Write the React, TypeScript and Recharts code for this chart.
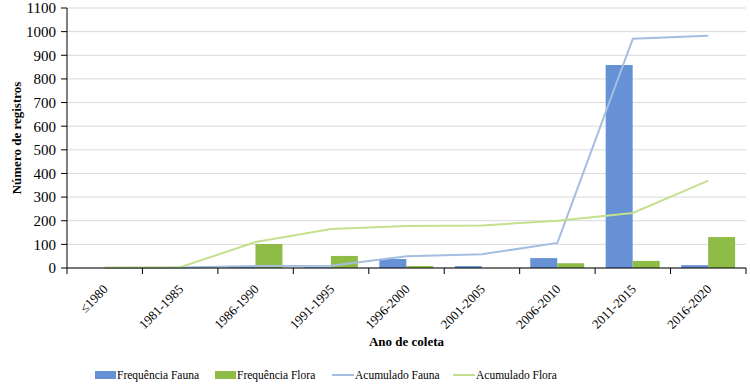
import React from 'react';
import {
  ComposedChart,
  Bar,
  Line,
  XAxis,
  YAxis,
  CartesianGrid,
  Legend,
} from 'recharts';

const periods = [
  '≤1980',
  '1981-1985',
  '1986-1990',
  '1991-1995',
  '1996-2000',
  '2001-2005',
  '2006-2010',
  '2011-2015',
  '2016-2020',
];
const freqFauna = [0, 2, 5, 3, 38, 8, 42, 859, 12];
const freqFlora = [2, 1, 102, 51, 8, 0, 20, 30, 131];
const acumFauna = [0, 2, 8, 10, 50, 58, 106, 970, 983];
const acumFlora = [2, 3, 110, 165, 178, 180, 200, 233, 370];
const yTicks = [0, 100, 200, 300, 400, 500, 600, 700, 800, 900, 1000, 1100];

const data = periods.map((p, i) => ({
  period: p,
  freqFauna: freqFauna[i],
  freqFlora: freqFlora[i],
  acumFauna: acumFauna[i],
  acumFlora: acumFlora[i],
}));

const BLUE = '#6692d5';
const GREEN = '#8fbc47';
const LIGHT_BLUE = '#a4bde0';
const LIGHT_GREEN = '#c4e08f';
const FONT = 'Liberation Serif, Times New Roman, serif';

// plot area
const PLOT_LEFT = 67;
const PLOT_RIGHT = 746;
const BAND = (PLOT_RIGHT - PLOT_LEFT) / periods.length;

function XTick(props: any) {
  const { x, y, payload, index } = props;
  const left = x - BAND / 2;
  const tx = x + 4;
  const ty = y + 14;
  return (
    <g>
      <line x1={left} y1={y - 8} x2={left} y2={y - 2} stroke="#000" />
      {index === periods.length - 1 && (
        <line x1={x + BAND / 2} y1={y - 8} x2={x + BAND / 2} y2={y - 2} stroke="#000" />
      )}
      <text
        x={tx}
        y={ty}
        transform={`rotate(-45, ${tx}, ${ty})`}
        textAnchor="end"
        fontSize={13}
        fill="#000"
        style={{ fontFamily: FONT }}
      >
        {payload.value}
      </text>
    </g>
  );
}

const legendItems = [
  { label: 'Frequência Fauna', color: BLUE, type: 'rect', left: 95 },
  { label: 'Frequência Flora', color: GREEN, type: 'rect', left: 215 },
  { label: 'Acumulado Fauna', color: LIGHT_BLUE, type: 'line', left: 332 },
  { label: 'Acumulado Flora', color: LIGHT_GREEN, type: 'line', left: 453 },
];

function LegendContent() {
  return (
    <div style={{ position: 'relative', width: 750, height: 24, fontFamily: FONT, fontSize: 11.5, lineHeight: '14px' }}>
      {legendItems.map((it) => (
        <div
          key={it.label}
          style={{ position: 'absolute', left: it.left, top: 10, display: 'flex', alignItems: 'center', whiteSpace: 'nowrap' }}
        >
          {it.type === 'rect' ? (
            <span style={{ width: 21, height: 8, background: it.color, display: 'inline-block', marginRight: 1 }} />
          ) : (
            <span style={{ width: 22, height: 2, background: it.color, display: 'inline-block', marginRight: 1 }} />
          )}
          <span style={{ color: '#000' }}>{it.label}</span>
        </div>
      ))}
    </div>
  );
}

export default function App() {
  return (
    <div style={{ position: 'absolute', left: 0, top: 0, width: 750, height: 387, background: '#fff', fontFamily: FONT }}>
      <ComposedChart
        width={750}
        height={387}
        data={data}
        margin={{ top: 8, right: 4, left: 0, bottom: 0 }}
        barCategoryGap="14%"
        barGap={0}
        style={{ fontFamily: FONT }}
      >
        <CartesianGrid vertical={false} stroke="#d9d9d9" />
        <XAxis
          dataKey="period"
          interval={0}
          height={90}
          tickLine={false}
          axisLine={{ stroke: '#000' }}
          tick={<XTick />}
          label={{
            value: 'Ano de coleta',
            position: 'insideBottom',
            offset: 12,
            style: { fontFamily: FONT, fontSize: 13, fontWeight: 'bold', fill: '#000' },
          }}
        />
        <YAxis
          width={67}
          domain={[0, 1100]}
          ticks={yTicks}
          interval={0}
          tickSize={6}
          tickMargin={5}
          axisLine={{ stroke: '#000' }}
          tickLine={{ stroke: '#000' }}
          tick={{ fontSize: 15, fill: '#000', style: { fontFamily: FONT } }}
          label={{
            value: 'Número de registros',
            angle: -90,
            position: 'insideLeft',
            offset: 16,
            style: { fontFamily: FONT, fontSize: 13, fontWeight: 'bold', fill: '#000', textAnchor: 'middle' },
          }}
        />
        <Legend verticalAlign="bottom" height={29} content={<LegendContent />} />
        <Bar dataKey="freqFauna" name="Frequência Fauna" fill={BLUE} isAnimationActive={false} />
        <Bar dataKey="freqFlora" name="Frequência Flora" fill={GREEN} isAnimationActive={false} />
        <Line
          dataKey="acumFauna"
          name="Acumulado Fauna"
          stroke={LIGHT_BLUE}
          strokeWidth={2}
          dot={false}
          type="linear"
          isAnimationActive={false}
        />
        <Line
          dataKey="acumFlora"
          name="Acumulado Flora"
          stroke={LIGHT_GREEN}
          strokeWidth={2}
          dot={false}
          type="linear"
          isAnimationActive={false}
        />
      </ComposedChart>
    </div>
  );
}
